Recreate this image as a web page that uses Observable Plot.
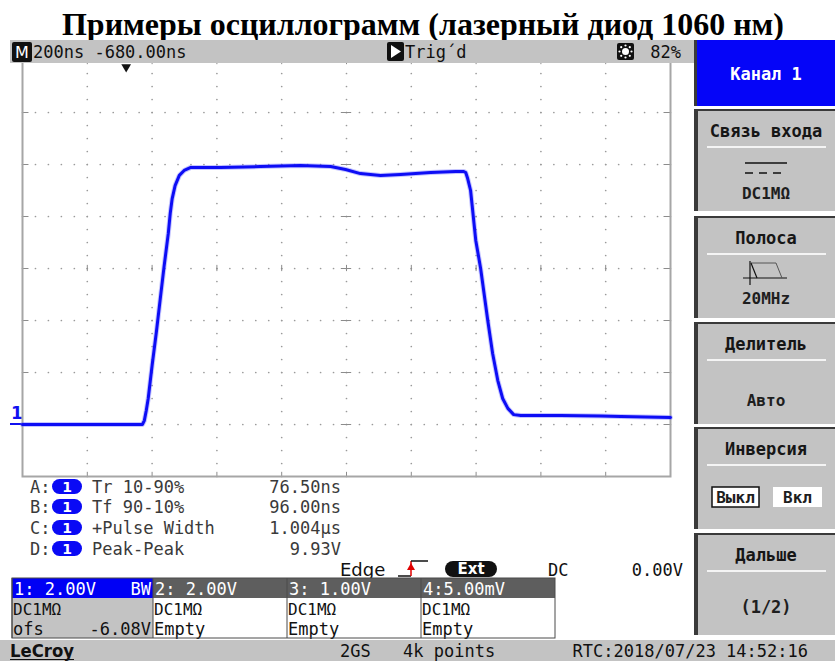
<!DOCTYPE html>
<html><head><meta charset="utf-8">
<script src="https://cdn.jsdelivr.net/npm/d3@7"></script>
<script src="https://cdn.jsdelivr.net/npm/@observablehq/plot@0.6"></script>
<style>
html,body{margin:0;padding:0;background:#fff;}
#root{position:relative;width:835px;height:661px;overflow:hidden;background:#fff;}
#root > svg{position:absolute;}
</style></head><body><div id="root"></div>
<script>
// ---------- data ----------
const chartTitle = "Примеры осциллограмм (лазерный диод 1060 нм)";
const timeNs = [-320, 50, 56, 62, 68, 80, 93, 105, 117, 130, 136, 142, 151, 164, 179, 198, 291, 414, 538, 631, 677, 723, 785, 847, 940, 1017, 1042, 1048, 1054, 1063, 1079, 1094, 1116, 1131, 1147, 1162, 1178, 1196, 1218, 1341, 1465, 1527, 1680];
const volts  = [0, 0, 0.15, 0.54, 1.0, 2.27, 3.54, 4.81, 6.08, 7.35, 8.12, 8.69, 9.19, 9.58, 9.77, 9.88, 9.88, 9.92, 9.96, 9.92, 9.81, 9.65, 9.58, 9.62, 9.69, 9.73, 9.73, 9.69, 9.46, 9.0, 7.08, 6.0, 4.0, 2.73, 1.69, 1.0, 0.62, 0.38, 0.35, 0.35, 0.33, 0.31, 0.27];
const xTicks = [-320, -120, 80, 280, 480, 680, 880, 1080, 1280, 1480, 1680]; // ns, 200 ns/div
const yTicks = [-2, 0, 2, 4, 6, 8, 10, 12, 14];                            // V, 2 V/div
const triggerNs = 0;

const topBarTexts = ["200ns -680.00ns", "Trig\u00B4d", "82%"];
const measLetters = ["A:", "B:", "C:", "D:"];
const measNames = ["Tr 10-90%", "Tf 90-10%", "+Pulse Width", "Peak-Peak"];
const measValues = ["76.50ns", "96.00ns", "1.004\u00B5s", "9.93V"];
const trigRow = ["Edge", "Ext", "DC", "0.00V"];
const chHeaders = ["1: 2.00V", "2: 2.00V", "3: 1.00V", "4:5.00mV"];
const chCoupling = ["DC1M\u03A9", "DC1M\u03A9", "DC1M\u03A9", "DC1M\u03A9"];
const chState = ["ofs", "Empty", "Empty", "Empty"];
const panelTitles = ["Связь входа", "Полоса", "Делитель", "Инверсия", "Дальше"];
const panelValues = ["DC1M\u03A9", "20MHz", "Авто", "", "(1/2)"];
const statusTexts = ["LeCroy", "2GS", "4k points", "RTC:2018/07/23 14:52:16"];

// ---------- chrome (background) ----------
const MONO = "'DejaVu Sans Mono', 'Liberation Mono', monospace";
const SANS = "'DejaVu Sans', 'Liberation Sans', sans-serif";
const rootSel = d3.select("#root");
const bg = rootSel.append("svg").attr("width", 835).attr("height", 661).style("left", "0px").style("top", "0px").style("z-index", 0);

function R(g, x, y, w, h, fill, o = {}) {
  const r = g.append("rect").attr("x", x).attr("y", y).attr("width", w).attr("height", h).attr("fill", fill);
  if (o.stroke) r.attr("stroke", o.stroke).attr("stroke-width", o.sw || 1);
  if (o.rx) r.attr("rx", o.rx);
  return r;
}
function T(g, x, y, s, o = {}) {
  const t = g.append("text").attr("x", x).attr("y", y).text(s)
    .attr("font-family", o.ff || MONO).attr("font-size", o.fs || 17)
    .attr("fill", o.fill || "#1e1e1e").attr("text-anchor", o.anchor || "start")
    .attr("font-weight", o.fw || "normal");
  if (o.len) t.attr("textLength", o.len).attr("lengthAdjust", "spacingAndGlyphs");
  return t;
}
function L(g, x1, y1, x2, y2, stroke, sw = 1, dash) {
  const l = g.append("line").attr("x1", x1).attr("y1", y1).attr("x2", x2).attr("y2", y2).attr("stroke", stroke).attr("stroke-width", sw);
  if (dash) l.attr("stroke-dasharray", dash);
  return l;
}

// title
T(bg, 423, 35, chartTitle, {ff: "'Liberation Serif', 'DejaVu Serif', serif", fs: 32, fw: "bold", anchor: "middle", fill: "#000", len: 722});

// channel marker "1"
T(bg, 11, 419, "1", {ff: SANS, fs: 17, fill: "#1010f0", fw: "bold"});
L(bg, 10, 424, 22, 424, "#1010f0", 2);

// measurements
measLetters.forEach((s, i) => {
  const yb = [493, 513, 534, 555][i];
  T(bg, 30, yb, s, {fill: "#3a3a3a"});
  R(bg, 52, yb - 14, 30, 15, "#0a0af5", {rx: 7.5});
  T(bg, 67, yb - 1.5, "1", {ff: SANS, fs: 14, fw: "bold", fill: "#fff", anchor: "middle"});
  T(bg, 92, yb, measNames[i], {fill: "#3a3a3a"});
  T(bg, 341, yb, measValues[i], {fill: "#3a3a3a", anchor: "end"});
});

// trigger row
T(bg, 340, 576, trigRow[0], {ff: SANS, fs: 18, fill: "#111"});
L(bg, 398, 576, 411, 576, "#111", 1.5);
L(bg, 411, 576, 411, 561, "#e00000", 1.5);
L(bg, 411, 561, 428, 561, "#111", 1.5);
bg.append("path").attr("d", "M407,570 L411,563 L415,570 Z").attr("fill", "#e00000");
R(bg, 445, 561, 52, 16, "#111", {rx: 8});
T(bg, 471, 574, trigRow[1], {ff: SANS, fs: 15, fw: "bold", fill: "#fff", anchor: "middle"});
T(bg, 548, 576, trigRow[2], {fill: "#111"});
T(bg, 683, 576, trigRow[3], {fill: "#111", anchor: "end"});

// channel table
const colX = [12, 153, 287, 421, 555];
for (let i = 0; i < 4; i++) {
  const x0 = colX[i], w = colX[i + 1] - colX[i];
  R(bg, x0, 578, w, 20, i === 0 ? "#0000f5" : "#5e5e5e");
  R(bg, x0, 598, w, 40, i === 0 ? "#c3c3c3" : "#ffffff");
  T(bg, x0 + 2, 595, chHeaders[i], {fill: "#fff"});
  T(bg, x0 + 1, 615, chCoupling[i], {fill: "#111", fs: 16});
  T(bg, x0 + 1, 635, chState[i], {fill: "#111"});
  L(bg, x0, 578, x0, 638, "#4a4a4a", 1);
}
T(bg, 151, 595, "BW", {fill: "#fff", anchor: "end"});
T(bg, 151, 635, "-6.08V", {fill: "#111", anchor: "end"});
R(bg, 12, 578, 543, 60, "none", {stroke: "#4a4a4a", sw: 1});

// status bar
R(bg, 0, 640, 835, 21, "#c3c3c3");
T(bg, 10, 657, statusTexts[0], {ff: SANS, fs: 18, fw: "bold", fill: "#111", len: 64});
L(bg, 10, 659.5, 74, 659.5, "#111", 1.2);
T(bg, 340, 657, statusTexts[1], {fill: "#111"});
T(bg, 403, 657, statusTexts[2], {fill: "#111"});
T(bg, 808, 657, statusTexts[3], {fill: "#111", anchor: "end"});

// right panel
R(bg, 694, 40, 3, 66, "#3a3a3a");
R(bg, 697, 40, 138, 66, "#0505f8");
T(bg, 766, 80, "Канал 1", {fill: "#fff", anchor: "middle", fw: "bold"});
const boxTop = [109, 216, 322, 427, 533];
boxTop.forEach((y0, i) => {
  R(bg, 694, y0, 141, 102, "#c3c3c3");
  R(bg, 694, y0, 4, 102, "#3a3a3a");
  R(bg, 694, y0, 141, 2, "#3a3a3a");
  L(bg, 707, y0 + 38, 826, y0 + 38, "#f4f4f4", 2);
  T(bg, 766, y0 + 28, panelTitles[i], {anchor: "middle", fw: "bold", fill: "#161616"});
});
// coupling icon + value
L(bg, 745, 163, 787, 163, "#111", 1.5);
L(bg, 745, 173, 787, 173, "#111", 1.5, "8,6");
T(bg, 766, 199, panelValues[0], {anchor: "middle", fs: 16, fw: "bold"});
// bandwidth icon + value
L(bg, 750, 261, 750, 285, "#111", 1.2);
L(bg, 743, 278, 787, 278, "#111", 1.2);
bg.append("path").attr("d", "M750,263 H776 L782,278").attr("fill", "none").attr("stroke", "#555").attr("stroke-width", 1);
L(bg, 751, 263, 757, 278, "#111", 1.2);
T(bg, 766, 304, panelValues[1], {anchor: "middle", fs: 16, fw: "bold"});
// probe
T(bg, 766, 406, panelValues[2], {anchor: "middle", fs: 16, fw: "bold"});
// inversion buttons
R(bg, 712, 487, 47, 20, "#fff", {stroke: "#111", sw: 1.5});
T(bg, 735.5, 503, "Выкл", {anchor: "middle", fs: 16, fw: "bold"});
R(bg, 773, 487, 49, 20, "#fff");
T(bg, 797.5, 503, "Вкл", {anchor: "middle", fs: 16, fw: "bold"});
// more
T(bg, 766, 613, panelValues[4], {anchor: "middle", fw: "bold"});

// ---------- the chart (Observable Plot) ----------
const wave = timeNs.map((t, i) => ({t, v: volts[i]}));
const innerX = xTicks.slice(1, -1), innerY = yTicks.slice(1, -1);
const gridDots = [];
for (const t of innerX) for (const v of d3.range(yTicks[0], yTicks[yTicks.length - 1] + 0.01, 0.5)) gridDots.push({t, v});
for (const v of innerY) for (const t of d3.range(xTicks[0], xTicks[xTicks.length - 1] + 0.01, 40)) gridDots.push({t, v});
const tc = "#8c8c8c";
const chart = Plot.plot({
  width: 650, height: 418,
  marginTop: 1, marginBottom: 1, marginLeft: 1, marginRight: 1,
  x: {domain: [xTicks[0], xTicks[xTicks.length - 1]], axis: null},
  y: {domain: [yTicks[0], yTicks[yTicks.length - 1]], axis: null},
  style: {background: "transparent", overflow: "visible"},
  marks: [
    Plot.dot(gridDots, {x: "t", y: "v", r: 0.85, fill: "#9a9a9a", stroke: null}),
    Plot.ruleX(innerX, {x: d => d, y1: 5.88, y2: 6.12, stroke: tc}),
    Plot.ruleY(innerY, {y: d => d, x1: 664, x2: 696, stroke: tc}),
    Plot.ruleX(innerX, {x: d => d, y1: -2, y2: -1.84, stroke: tc}),
    Plot.ruleX(innerX, {x: d => d, y1: 14, y2: 13.84, stroke: tc}),
    Plot.ruleY(innerY, {y: d => d, x1: -320, x2: -300, stroke: tc}),
    Plot.ruleY(innerY, {y: d => d, x1: 1680, x2: 1660, stroke: tc}),
    Plot.frame({stroke: "#a6a6a6", strokeWidth: 2}),
    Plot.line(wave, {x: "t", y: "v", stroke: "#5c5cff", strokeWidth: 5, strokeOpacity: 0.35}),
    Plot.line(wave, {x: "t", y: "v", stroke: "#0d0df5", strokeWidth: 3}),
    Plot.dot([triggerNs], {x: d => d, y: yTicks[yTicks.length - 1], symbol: "triangle", r: 3.6, rotate: 180, fill: "#111", stroke: null, dy: 6.5})
  ]
});
chart.style.position = "absolute";
chart.style.left = "21px";
chart.style.top = "59px";
chart.style.zIndex = 1;
document.getElementById("root").appendChild(chart);

// ---------- top status bar (overlay) ----------
const topBar = rootSel.append("svg").attr("width", 694).attr("height", 24).style("left", "0px").style("top", "40px").style("z-index", 2);
R(topBar, 10, 0, 684, 23, "#c3c3c3");
R(topBar, 12, 2, 20, 20, "#111", {rx: 2});
T(topBar, 22, 18, "M", {ff: SANS, fs: 16, fill: "#fff", anchor: "middle"});
T(topBar, 33, 18, topBarTexts[0], {fill: "#111"});
R(topBar, 387, 2, 17, 19, "#111", {rx: 2});
topBar.append("path").attr("d", "M391,5 L401,11.5 L391,18 Z").attr("fill", "#fff");
T(topBar, 405, 18, topBarTexts[1], {fill: "#111"});
R(topBar, 617, 3, 17, 17, "#111", {rx: 2});
topBar.append("circle").attr("cx", 625.5).attr("cy", 11.5).attr("r", 3.5).attr("fill", "#fff");
[[0, -6], [0, 6], [-6, 0], [6, 0], [-4.3, -4.3], [4.3, 4.3], [-4.3, 4.3], [4.3, -4.3]].forEach(([dx, dy]) =>
  topBar.append("circle").attr("cx", 625.5 + dx).attr("cy", 11.5 + dy).attr("r", 1.1).attr("fill", "#fff"));
T(topBar, 681, 18, topBarTexts[2], {fill: "#111", anchor: "end"});
</script>
</body></html>
